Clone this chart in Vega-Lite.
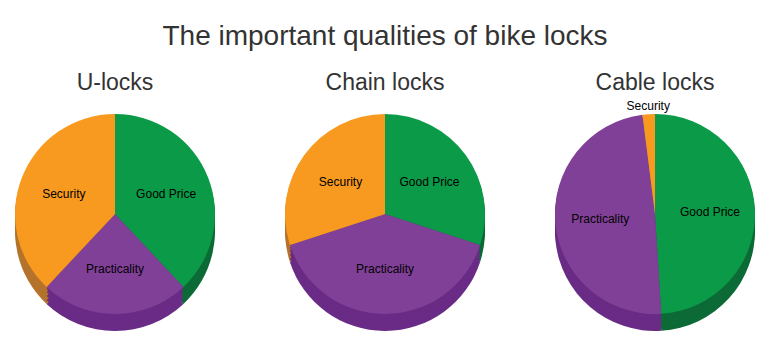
{
  "$schema": "https://vega.github.io/schema/vega-lite/v6.json",
  "padding": {"left": 0, "right": 0, "top": 23, "bottom": 0},
  "background": "white",
  "title": {"text": "The important qualities of bike locks", "fontSize": 28, "font": "Liberation Sans", "fontWeight": "normal", "color": "#333333", "anchor": "middle", "offset": 21},
  "data": {"values": [
    {"lock": "U-locks", "quality": "Good Price", "value": 38},
    {"lock": "U-locks", "quality": "Practicality", "value": 24},
    {"lock": "U-locks", "quality": "Security", "value": 38},
    {"lock": "Chain locks", "quality": "Good Price", "value": 30},
    {"lock": "Chain locks", "quality": "Practicality", "value": 40},
    {"lock": "Chain locks", "quality": "Security", "value": 30},
    {"lock": "Cable locks", "quality": "Good Price", "value": 49},
    {"lock": "Cable locks", "quality": "Practicality", "value": 49},
    {"lock": "Cable locks", "quality": "Security", "value": 2}
  ]},
  "facet": {"column": {"field": "lock", "type": "nominal", "sort": ["U-locks", "Chain locks", "Cable locks"], "title": null, "header": {"labelFontSize": 23, "labelFont": "Liberation Sans", "labelColor": "#333333", "labelPadding": 4}}},
  "spacing": 40,
  "spec": {
    "width": 230,
    "height": 230,
    "layer": [
      {
        "mark": {"type": "arc", "radius": 100, "yOffset": 17},
        "encoding": {
          "theta": {"field": "value", "type": "quantitative", "stack": true},
          "fill": {"field": "quality", "type": "nominal", "scale": {"domain": ["Good Price", "Practicality", "Security"], "range": ["#0B6A35", "#692B85", "#B4732B"]}, "legend": null}
        }
      },
      {
        "mark": {"type": "arc", "radius": 100, "yOffset": 13},
        "encoding": {
          "theta": {"field": "value", "type": "quantitative", "stack": true},
          "fill": {"field": "quality", "type": "nominal", "scale": {"domain": ["Good Price", "Practicality", "Security"], "range": ["#0B6A35", "#692B85", "#B4732B"]}, "legend": null}
        }
      },
      {
        "mark": {"type": "arc", "radius": 100, "yOffset": 9},
        "encoding": {
          "theta": {"field": "value", "type": "quantitative", "stack": true},
          "fill": {"field": "quality", "type": "nominal", "scale": {"domain": ["Good Price", "Practicality", "Security"], "range": ["#0B6A35", "#692B85", "#B4732B"]}, "legend": null}
        }
      },
      {
        "mark": {"type": "arc", "radius": 100, "yOffset": 5},
        "encoding": {
          "theta": {"field": "value", "type": "quantitative", "stack": true},
          "fill": {"field": "quality", "type": "nominal", "scale": {"domain": ["Good Price", "Practicality", "Security"], "range": ["#0B6A35", "#692B85", "#B4732B"]}, "legend": null}
        }
      },
      {
        "mark": {"type": "arc", "radius": 100, "yOffset": 2},
        "encoding": {
          "theta": {"field": "value", "type": "quantitative", "stack": true},
          "fill": {"field": "quality", "type": "nominal", "scale": {"domain": ["Good Price", "Practicality", "Security"], "range": ["#0B6A35", "#692B85", "#B4732B"]}, "legend": null}
        }
      },
      {
        "mark": {"type": "arc", "radius": 100},
        "encoding": {
          "theta": {"field": "value", "type": "quantitative", "stack": true},
          "color": {"field": "quality", "type": "nominal", "scale": {"domain": ["Good Price", "Practicality", "Security"], "range": ["#0B9A48", "#804098", "#F89A1F"]}, "legend": null}
        }
      },
      {
        "mark": {"type": "text", "radius": 55, "fontSize": 12, "font": "Liberation Sans", "color": "#000000"},
        "encoding": {
          "theta": {"field": "value", "type": "quantitative", "stack": true},
          "text": {"condition": {"test": "datum.value >= 5", "field": "quality"}, "value": ""}
        }
      },
      {
        "mark": {"type": "text", "radius": 108, "fontSize": 12, "font": "Liberation Sans", "color": "#000000"},
        "encoding": {
          "theta": {"field": "value", "type": "quantitative", "stack": true},
          "text": {"condition": {"test": "datum.value < 5", "field": "quality"}, "value": ""}
        }
      }
    ]
  },
  "config": {"view": {"stroke": null}}
}
